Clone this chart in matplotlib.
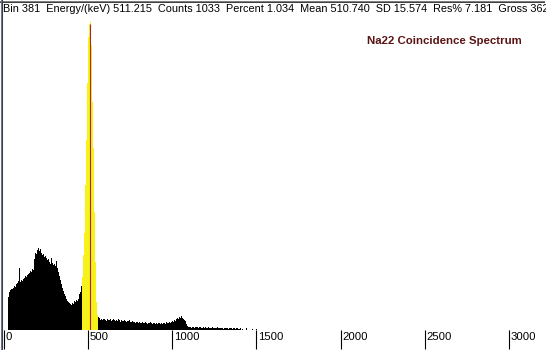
import numpy as np
import matplotlib.pyplot as plt
from matplotlib.lines import Line2D
from matplotlib.transforms import ScaledTranslation

plt.rcParams['font.family'] = ['Liberation Sans', 'DejaVu Sans']

# energy calibration of the display (keV per bin, first bin edge)
bin_width_kev = 5.947
first_bin_kev = 22.6

# counts per bin
compton_counts = [111, 127, 134, 138, 138, 141, 148, 144, 154, 158, 164, 208, 161, 168, 164,
                  171, 174, 181, 178, 184, 188, 191, 198, 195, 205, 201, 238, 258, 255, 268,
                  275, 265, 272, 258, 252, 255, 245, 248, 241, 235, 238, 228, 221, 241, 225,
                  218, 221, 215, 231, 208, 195, 181, 168, 154, 141, 131, 121, 114, 104, 97,
                  94, 91, 87, 84, 91, 87, 97, 94, 101, 97, 104, 121, 127, 148]
photopeak_counts = [178, 252, 325, 486, 637, 828, 983, 1026, 1033, 956, 765, 610, 396, 228, 94, 50]
tail_counts = [44, 40, 34, 37, 34, 37, 37, 34, 30, 37, 34, 34, 37, 30, 34, 37, 34, 30, 34, 30,
               37, 34, 27, 34, 30, 30, 34, 30, 27, 30, 30, 34, 27,
               27, 30, 27, 27, 23, 27, 27, 23, 27, 23, 23, 27, 23, 23, 27, 23, 20, 23, 23, 27,
               23, 20, 23, 23, 20, 23, 20, 23, 23, 20, 23, 20, 23, 23, 20, 27, 23, 23, 27, 23,
               27, 30, 27, 34, 30, 37, 40, 37, 44, 40, 47, 40, 37, 34, 30, 20, 13, 10,
               10, 10, 7, 10, 10, 7, 10, 10, 10, 7, 10, 10, 7, 7, 10, 7, 10, 7, 7, 10, 7, 7, 7,
               10, 7, 7, 7, 7, 10, 7, 7, 7, 7, 7, 3, 7, 7, 7, 7, 3, 7, 7, 7, 3, 7, 7, 3, 7, 7,
               3, 3, 7,
               0, 3, 0, 0, 0, 7, 0, 0, 0, 0, 0, 3, 0, 0, 0, 3]

roi_kev = (461.0, 558.0)
marker_kev = 511.215
x_ticks = [0, 500, 1000, 1500, 2000, 2500, 3000]
status_text = ("Bin 381  Energy/(keV) 511.215  Counts 1033  Percent 1.034  "
               "Mean 510.740  SD 15.574  Res% 7.181  Gross 3622")
title = "Na22 Coincidence Spectrum"

counts = np.array(compton_counts + photopeak_counts + tail_counts)
edges = first_bin_kev + bin_width_kev * np.arange(len(counts))
centers = edges + bin_width_kev / 2
in_roi = (centers > roi_kev[0]) & (centers < roi_kev[1])
colors = np.where(in_roi, '#f7f21a', 'black')

W, H = 546, 351
fig = plt.figure(figsize=(W / 100, H / 100), dpi=100)
fig.patch.set_facecolor('white')

px0, px_per_kev = 4.2, 0.16816
ax = fig.add_axes([0, 21 / H, 1, 312 / H])
ax.bar(edges, counts, width=bin_width_kev, align='edge', color=colors,
       linewidth=0, antialiased=False)
marker_bin = np.argmin(np.abs(centers - marker_kev))
ax.vlines(marker_kev, 0, counts[marker_bin] - 8, color='#a8282a', linewidth=0.8)

ax.set_xlim(-px0 / px_per_kev, (W - px0) / px_per_kev)
ax.set_ylim(0, 312 * 1033 / 308)
for s in ax.spines.values():
    s.set_visible(False)
ax.set_yticks([])
ax.set_xticks(x_ticks)
ax.set_xticklabels([str(t) for t in x_ticks])
ax.tick_params(axis='x', direction='out', length=13.7, width=0.8, pad=-12.5,
               labelsize=8.2, colors='black')
shift = ScaledTranslation(1.5 / 100, 0, fig.dpi_scale_trans)
for lab in ax.get_xticklabels():
    lab.set_horizontalalignment('left')
    lab.set_transform(lab.get_transform() + shift)

ax.text(522 / W, 1 - (44.5 - 18) / 312, title, transform=ax.transAxes,
        ha='right', va='baseline', fontsize=8.2, fontweight='bold', color='#5a1414')

fig.text(3 / W, 1 - 12.5 / H, status_text, ha='left', va='baseline', fontsize=7.8)

# window frame
def hline(y, color):
    fig.add_artist(Line2D([0, 1], [1 - (y + 0.5) / H] * 2, color=color, lw=0.75))

def vline(x, color):
    fig.add_artist(Line2D([(x + 0.5) / W] * 2, [0, 1], color=color, lw=0.75))

hline(0, '#808080')
hline(1, '#404040')
vline(0, '#6a7890')
vline(1, '#404040')
hline(H - 2, 'white')
hline(H - 1, '#d4d0c8')
vline(W - 2, 'white')
vline(W - 1, '#d4d0c8')

fig.savefig('out.png', dpi=100)
